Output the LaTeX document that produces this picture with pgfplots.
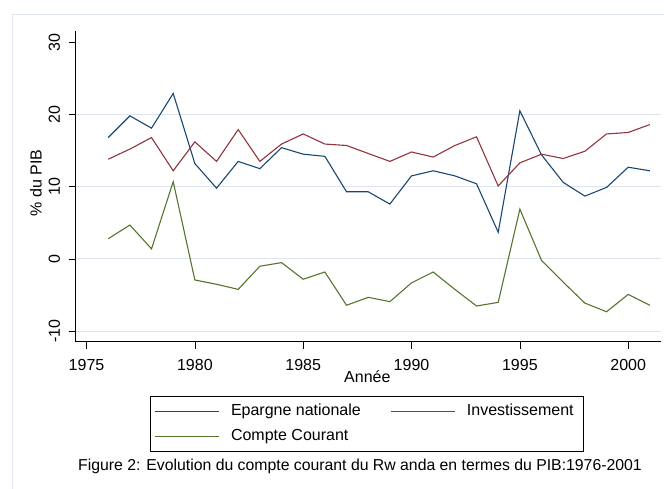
\documentclass[border=0pt]{standalone}
\usepackage{pgfplots}
\usepackage{pgfplotstable}
\pgfplotsset{compat=1.18}
\usepackage{fontspec}
\setmainfont{Liberation Sans}
\definecolor{snavy}{RGB}{26,71,111}
\definecolor{smaroon}{RGB}{144,53,59}
\definecolor{sgreen}{RGB}{85,117,47}
\definecolor{sgrid}{RGB}{222,228,240}
\pgfplotstableread{
year E I C
1976 16.8 13.8 2.8
1977 19.8 15.2 4.7
1978 18.1 16.8 1.4
1979 22.9 12.2 10.7
1980 13.2 16.2 -2.9
1981 9.8 13.5 -3.5
1982 13.5 17.9 -4.2
1983 12.5 13.5 -1.0
1984 15.4 15.9 -0.5
1985 14.5 17.3 -2.8
1986 14.2 15.9 -1.8
1987 9.3 15.7 -6.4
1988 9.3 14.6 -5.3
1989 7.6 13.5 -5.9
1990 11.5 14.8 -3.3
1991 12.2 14.1 -1.8
1992 11.5 15.7 -4.2
1993 10.4 16.9 -6.5
1994 3.7 10.1 -6.0
1995 20.5 13.3 6.9
1996 14.4 14.5 -0.2
1997 10.6 13.9 -3.2
1998 8.7 14.9 -6.1
1999 9.9 17.3 -7.3
2000 12.7 17.5 -4.9
2001 12.2 18.6 -6.4
}\data
\begin{document}
\fontsize{16}{19}\selectfont
\begin{tikzpicture}
\path[use as bounding box] (0,0) rectangle (664pt,488pt);
\draw[sgrid, line width=0.9pt] (12.3pt,-10pt) -- (12.3pt,474pt) -- (700pt,474pt);
\begin{axis}[
  at={(75.7pt,146.3pt)}, anchor=south west,
  scale only axis, width=585pt, height=311pt,
  xmin=1974.5, xmax=2001.5, ymin=-11.44, ymax=31.58,
  axis x line*=bottom, axis y line*=left,
  axis line style={-, black, line width=0.7pt},
  xtick={1975,1980,1985,1990,1995,2000},
  xticklabels={1975,1980,1985,1990,1995,2000},
  ytick={-10,0,10,20,30},
  yticklabels={-10,0,10,20,30},
  extra y ticks={-10,0,10,20},
  extra y tick labels={},
  extra y tick style={grid=major, major tick length=0pt},
  grid style={sgrid, line width=1pt},
  tick align=outside, major tick length=7pt,
  tick style={black, line width=0.6pt},
  minor tick num=0,
  tick label style={font=\fontsize{16}{19}\selectfont},
  xticklabel style={anchor=base, yshift=-22pt},
  yticklabel style={xshift=-8.5pt, rotate=90, anchor=south, inner sep=0pt},
  xlabel={Année},
  xlabel style={at={(axis description cs:0.4985,-0.1305)}, anchor=base},
  ylabel={\% du PIB},
  ylabel style={at={(axis description cs:-0.0679,0.51)}, anchor=center, rotate=0},
  label style={font=\fontsize{16}{19}\selectfont},
  legend columns=2,
  legend cell align=left,
  legend image code/.code={\draw[#1, line width=1.1pt] (0pt,0pt) -- (64pt,0pt); \path (70pt,0pt);},
  legend style={at={(axis description cs:0.4976,-0.1746)}, anchor=north,
    draw=black, line width=0.7pt, font=\fontsize{16}{19}\selectfont,
    inner xsep=5pt, inner ysep=7pt,
    nodes={inner ysep=1pt, inner xsep=5pt},
    row sep=9pt,
    /tikz/every even column/.append style={column sep=25pt}},
  clip=false,
]
\addplot[draw=snavy, line width=1.1pt] table[x=year, y=E] {\data};
\addlegendentry{Epargne nationale}
\addplot[draw=smaroon, line width=1.1pt] table[x=year, y=I] {\data};
\addlegendentry{Investissement}
\addplot[draw=sgreen, line width=1.1pt] table[x=year, y=C] {\data};
\addlegendentry{Compte Courant}
\end{axis}
\node[anchor=base, font=\fontsize{15.8}{19}\selectfont] at (360pt,17.5pt) {Figure 2: Evolution du compte courant du Rw anda en termes du PIB:1976-2001};
\end{tikzpicture}
\end{document}
